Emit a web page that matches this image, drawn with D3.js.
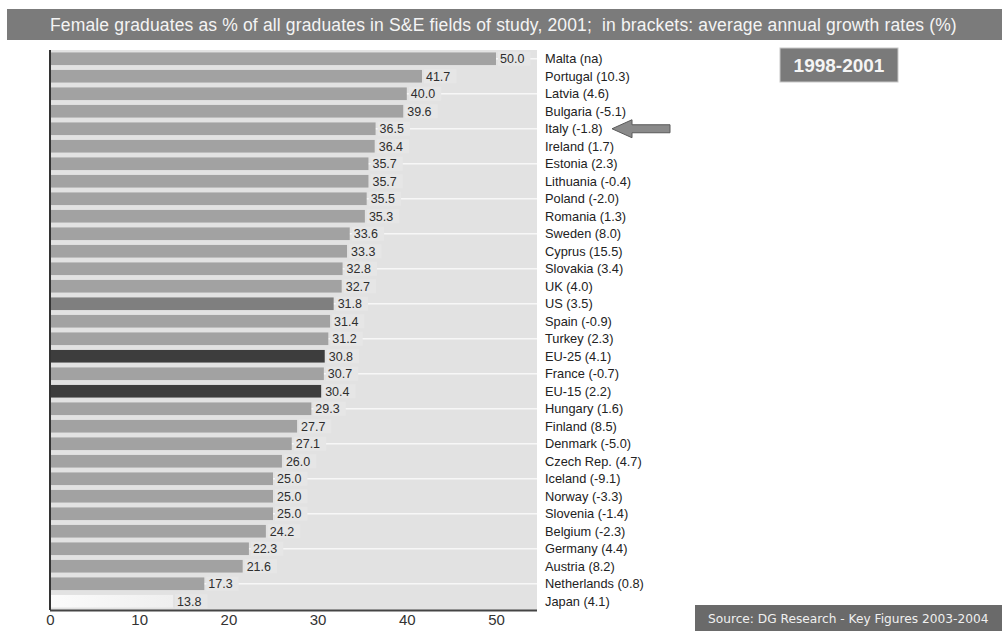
<!DOCTYPE html>
<html>
<head>
<meta charset="utf-8">
<script src="https://cdn.jsdelivr.net/npm/d3@7"></script>
<style>
  html, body { margin: 0; padding: 0; background: #ffffff; overflow: hidden; }
  svg { display: block; }
</style>
</head>
<body>
<svg id="chart" width="1002" height="631"></svg>
<script>
// Female share of S&E graduates, 2001, with average annual growth 1998-2001
const countries = ["Malta", "Portugal", "Latvia", "Bulgaria", "Italy", "Ireland", "Estonia",
  "Lithuania", "Poland", "Romania", "Sweden", "Cyprus", "Slovakia", "UK", "US", "Spain",
  "Turkey", "EU-25", "France", "EU-15", "Hungary", "Finland", "Denmark", "Czech Rep.",
  "Iceland", "Norway", "Slovenia", "Belgium", "Germany", "Austria", "Netherlands", "Japan"];
const shares = [50.0, 41.7, 40.0, 39.6, 36.5, 36.4, 35.7, 35.7, 35.5, 35.3, 33.6, 33.3,
  32.8, 32.7, 31.8, 31.4, 31.2, 30.8, 30.7, 30.4, 29.3, 27.7, 27.1, 26.0, 25.0, 25.0,
  25.0, 24.2, 22.3, 21.6, 17.3, 13.8];
const growth = ["na", "10.3", "4.6", "-5.1", "-1.8", "1.7", "2.3", "-0.4", "-2.0", "1.3",
  "8.0", "15.5", "3.4", "4.0", "3.5", "-0.9", "2.3", "4.1", "-0.7", "2.2", "1.6", "8.5",
  "-5.0", "4.7", "-9.1", "-3.3", "-1.4", "-2.3", "4.4", "8.2", "0.8", "4.1"];
const xTicks = [0, 10, 20, 30, 40, 50];

const titleText = "Female graduates as % of all graduates in S&E fields of study, 2001;  in brackets: average annual growth rates (%)";
const periodText = "1998-2001";
const sourceText = "Source: DG Research - Key Figures 2003-2004";
const highlighted = "Italy";

const rows = countries.map((c, i) => ({ country: c, value: shares[i], growth: growth[i], i }));

const svg = d3.select("#chart");
const plot = { left: 50, right: 537, top: 50, bottom: 610 };
const font = "Liberation Sans, Arial, sans-serif";

const x = d3.scaleLinear().domain([0, 50]).range([plot.left, 496]);
const y = d3.scaleBand().domain(countries).range([plot.top, plot.bottom])
  .paddingInner(0.28).paddingOuter(0.14);

function barColor(d) {
  if (d.country === "EU-25" || d.country === "EU-15") return "#3d3d3d";
  if (d.country === "US") return "#7f7f7f";
  if (d.country === "Japan") return "url(#japanGrad)";
  return "#a2a2a2";
}

const defs = svg.append("defs");
const jg = defs.append("linearGradient").attr("id", "japanGrad");
jg.append("stop").attr("offset", "0%").attr("stop-color", "#fbfbfb");
jg.append("stop").attr("offset", "100%").attr("stop-color", "#efefef");

// title band
svg.append("rect").attr("x", 7).attr("y", 9).attr("width", 995).attr("height", 31)
  .attr("fill", "#7b7b7b");
svg.append("text").attr("x", 50).attr("y", 31)
  .style("white-space", "pre")
  .attr("font-family", font)
  .attr("font-size", 17.5).attr("letter-spacing", 0.15).attr("fill", "#f4f4f4")
  .text(titleText);

// plot background
svg.append("rect").attr("x", plot.left).attr("y", plot.top)
  .attr("width", plot.right - plot.left).attr("height", plot.bottom - plot.top)
  .attr("fill", "#e2e2e2");

// white guide lines through every other row
svg.append("g").selectAll("line")
  .data(rows.filter(d => d.i % 2 === 0))
  .join("line")
  .attr("x1", plot.left).attr("x2", plot.right)
  .attr("y1", d => y(d.country) + y.bandwidth() / 2)
  .attr("y2", d => y(d.country) + y.bandwidth() / 2)
  .attr("stroke", "#f7f7f7").attr("stroke-width", 1.5);

// bars
svg.append("g").selectAll("rect")
  .data(rows)
  .join("rect")
  .attr("x", x(0))
  .attr("y", d => y(d.country))
  .attr("width", d => x(d.value) - x(0))
  .attr("height", y.bandwidth())
  .attr("fill", barColor);

// value labels with a backing box covering the guide lines
const vals = svg.append("g").selectAll("g").data(rows).join("g")
  .attr("transform", d => `translate(${x(d.value) + 4},${y(d.country) + y.bandwidth() / 2})`);
vals.append("rect").attr("class", "bg");
vals.append("text")
  .attr("dy", "0.36em")
  .attr("font-family", font)
  .attr("font-size", 12.5).attr("fill", "#2e2e2e")
  .text(d => d.value.toFixed(1));
vals.each(function () {
  const t = d3.select(this).select("text").node().getBBox();
  d3.select(this).select("rect.bg")
    .attr("x", t.x - 2).attr("y", -7).attr("width", t.width + 8).attr("height", 14)
    .attr("fill", "#e6e6e6");
});

// country labels
svg.append("g").selectAll("text")
  .data(rows)
  .join("text")
  .attr("x", 545)
  .attr("y", d => y(d.country) + y.bandwidth() / 2)
  .attr("dy", "0.36em")
  .attr("font-family", font)
  .attr("font-size", 12.8).attr("fill", "#222")
  .text(d => `${d.country} (${d.growth})`);

// axes
const xAxis = svg.append("g")
  .attr("transform", `translate(0,${plot.bottom})`)
  .call(d3.axisBottom(x).tickValues(xTicks).tickSize(0).tickPadding(4));
xAxis.select(".domain").attr("d", `M${plot.left},0.5H${plot.right}`)
  .attr("stroke", "#444").attr("stroke-width", 2);
xAxis.selectAll("text")
  .attr("font-family", font)
  .attr("font-size", 15).attr("fill", "#333");

svg.append("line")
  .attr("x1", plot.left).attr("x2", plot.left)
  .attr("y1", plot.top).attr("y2", plot.bottom)
  .attr("stroke", "#333").attr("stroke-width", 2);

// arrow pointing at the highlighted row
const ay = y(highlighted) + y.bandwidth() / 2;
const ax = 612;
svg.append("path")
  .attr("d", `M${ax},${ay} L${ax + 20},${ay - 9} L${ax + 20},${ay - 4} L${ax + 58},${ay - 4}
              L${ax + 58},${ay + 4} L${ax + 20},${ay + 4} L${ax + 20},${ay + 9} Z`)
  .attr("fill", "#8a8a8a").attr("stroke", "#5a5a5a").attr("stroke-width", 1);

// period box
svg.append("rect").attr("x", 780).attr("y", 48).attr("width", 118).attr("height", 34)
  .attr("fill", "#7a7a7a").attr("stroke", "#c8c8c8").attr("stroke-width", 1);
svg.append("text").attr("x", 839).attr("y", 72).attr("text-anchor", "middle")
  .attr("font-family", font)
  .attr("font-weight", "bold").attr("font-size", 19).attr("fill", "#f5f5f5")
  .text(periodText);

// source box
svg.append("rect").attr("x", 695).attr("y", 605).attr("width", 307).attr("height", 26)
  .attr("fill", "#6a6a6a");
svg.append("text").attr("x", 708).attr("y", 623)
  .attr("font-family", "DejaVu Sans, sans-serif")
  .attr("font-size", 12.2).attr("fill", "#f0f0f0")
  .text(sourceText);
</script>
</body>
</html>
